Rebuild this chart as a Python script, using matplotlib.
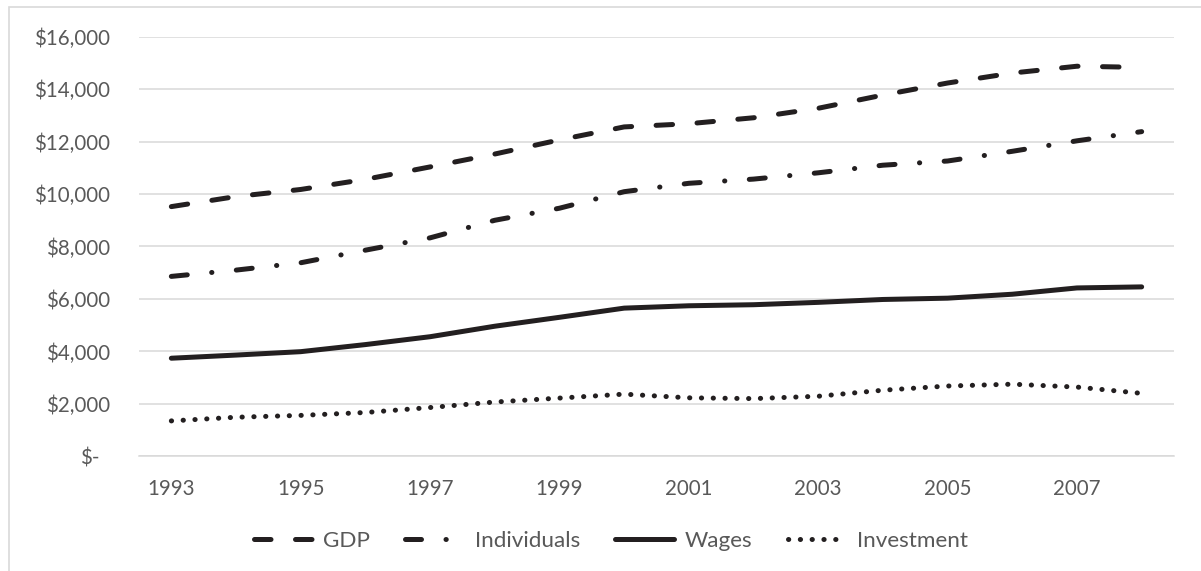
import matplotlib
matplotlib.use("Agg")
import matplotlib.pyplot as plt
from matplotlib.transforms import ScaledTranslation
from matplotlib.patches import Rectangle

years = list(range(1993, 2009))
gdp = [9521, 9905, 10175, 10561, 11035, 11526, 12066, 12560, 12682, 12909,
       13271, 13774, 14234, 14614, 14874, 14830]
individuals = [6860, 7100, 7380, 7860, 8330, 9000, 9460, 10090, 10410, 10570,
               10810, 11100, 11260, 11630, 12030, 12380]
wages = [3740, 3860, 3990, 4260, 4560, 4960, 5300, 5650, 5740, 5780,
         5870, 5980, 6030, 6180, 6420, 6460]
investment = [1350, 1490, 1560, 1670, 1860, 2070, 2220, 2370, 2230, 2200,
              2290, 2520, 2680, 2750, 2640, 2400]
series_names = ["GDP", "Individuals", "Wages", "Investment"]
y_ticks = [0, 2000, 4000, 6000, 8000, 10000, 12000, 14000, 16000]
y_labels = ["$-", "$2,000", "$4,000", "$6,000", "$8,000", "$10,000",
            "$12,000", "$14,000", "$16,000"]
x_label_years = years[::2]

plt.rcParams['font.family'] = ['Lato', 'DejaVu Sans']

W, H = 1201, 571
fig = plt.figure(figsize=(W / 100, H / 100), dpi=100)
ax = fig.add_axes([139 / W, 1 - 456.3 / H, (1174 - 139) / W, (456.3 - 36.7) / H])

line_color = '#231F20'
lw = 3.6
x = list(range(len(years)))
ax.plot(x, gdp, color=line_color, lw=lw, linestyle=(0, (3.3, 4.9)),
        dash_capstyle='round', label=series_names[0])
ax.plot(x, individuals, color=line_color, lw=lw,
        linestyle=(0, (3.2, 4.9, 0.05, 4.9)), dash_capstyle='round',
        label=series_names[1])
ax.plot(x, wages, color=line_color, lw=lw, solid_capstyle='round',
        solid_joinstyle='round', label=series_names[2])
ax.plot(x, investment, color=line_color, lw=lw, linestyle=(0, (0.05, 2.31)),
        dash_capstyle='round', label=series_names[3])

ax.set_xlim(-0.5, len(years) - 0.5)
ax.set_ylim(0, 16000)
ax.set_yticks(y_ticks)
ax.set_yticklabels(y_labels)
ax.set_xticks([years.index(yy) for yy in x_label_years])
ax.set_xticklabels([str(yy) for yy in x_label_years])

grid_color = '#D9D9D9'
ax.grid(axis='y', color=grid_color, lw=1.1)
ax.set_axisbelow(True)
for s in ['top', 'right', 'left']:
    ax.spines[s].set_visible(False)
ax.spines['bottom'].set_color(grid_color)
ax.spines['bottom'].set_linewidth(1.1)
ax.tick_params(axis='both', length=0, labelsize=14.8, colors='#595959')
ax.tick_params(axis='y', pad=21)
ax.tick_params(axis='x', pad=16)

lab0 = ax.get_yticklabels()[0]
lab0.set_transform(lab0.get_transform() + ScaledTranslation(-0.10, 0, fig.dpi_scale_trans))

leg = fig.legend(loc='center', bbox_to_anchor=(611 / W, 1 - 541 / H), ncol=4,
                 frameon=False, fontsize=16.2, handlelength=2.6,
                 handletextpad=0.5, columnspacing=1.55)
for t in leg.get_texts():
    t.set_color('#595959')

fig.patches.append(Rectangle((9 / W, -0.1), 1.2, 1 - 7 / H + 0.1,
                             transform=fig.transFigure, fill=False,
                             edgecolor=grid_color, lw=1.2))

fig.savefig('out.png', dpi=100)
